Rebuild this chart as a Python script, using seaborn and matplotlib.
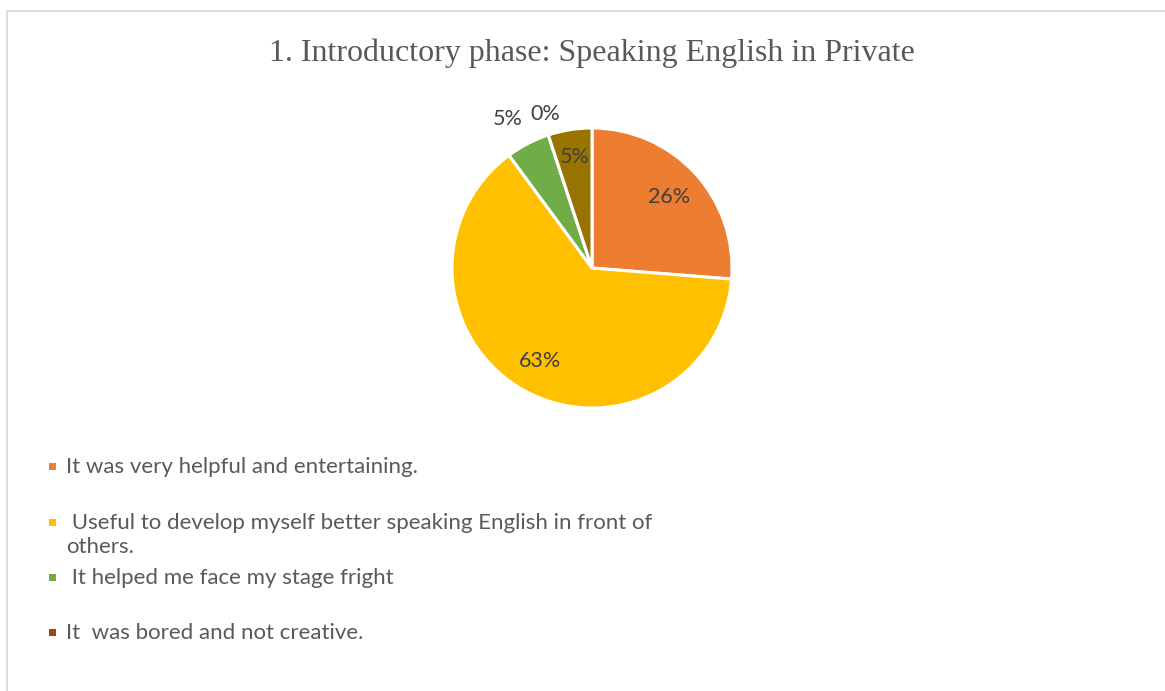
import matplotlib
matplotlib.use("Agg")
import matplotlib.pyplot as plt
from matplotlib.patches import Rectangle
from matplotlib.lines import Line2D
import numpy as np
import seaborn as sns

# Survey responses (percent of students)
title = "1. Introductory phase: Speaking English in Private"
shares = [26, 63, 5, 0, 5]
slice_colors = ["#ED7D31", "#FFC000", "#70AD47", "#9E480E", "#997300"]
legend_labels = [
    "It was very helpful and entertaining.",
    " Useful to develop myself better speaking English in front of\nothers.",
    " It helped me face my stage fright",
    "It  was bored and not creative.",
]
# percentage label placement: radius (fraction of pie radius) and angular nudge (deg)
label_radius = [0.75, 0.76, 1.22, 1.15, 0.80]
label_nudge = [0.0, 0.0, 2.3, -1.2, 0.0]

sns.set_theme(style="white")
plt.rcParams["font.family"] = ["Lato", "DejaVu Sans"]

W, H = 1165, 691
fig = plt.figure(figsize=(W / 100, H / 100), dpi=100)
fig.patch.set_facecolor("white")


def fx(px):
    return px / W


def fy(py):
    return 1 - py / H


# chart-area frame (top and left edges)
frame_col = "#D9D9D9"
fig.add_artist(Line2D([fx(7), fx(7)], [fy(11), 0], transform=fig.transFigure,
                      color=frame_col, lw=1.3))
fig.add_artist(Line2D([fx(7), 1], [fy(11), fy(11)], transform=fig.transFigure,
                      color=frame_col, lw=1.3))

# pie
cx, cy, r = 592, 268, 140
ax = fig.add_axes([fx(cx - r), fy(cy + r), 2 * r / W, 2 * r / H])
wedges, _ = ax.pie(shares, colors=slice_colors, startangle=90, counterclock=False,
                   wedgeprops=dict(edgecolor="white", linewidth=2.2))
ax.set_xlim(-1, 1)
ax.set_ylim(-1, 1)
ax.set_aspect("equal")
ax.axis("off")
for w in wedges:
    w.set_clip_on(False)
for w, v, rr, dn in zip(wedges, shares, label_radius, label_nudge):
    mid = np.deg2rad((w.theta1 + w.theta2) / 2 + dn)
    ax.text(rr * np.cos(mid), rr * np.sin(mid), f"{v}%", ha="center", va="center",
            fontsize=15.5, color="#404040")

# title
fig.text(fx(592), fy(53), title, ha="center", va="center", fontsize=23,
         family=["Liberation Serif", "DejaVu Serif"], color="#595959")

# legend entries
entry_y = [466, 522, 577, 632]
for lbl, col, yy in zip(legend_labels, slice_colors[:4], entry_y):
    s = 7
    fig.add_artist(Rectangle((fx(49), fy(yy + s / 2)), s / W, s / H,
                             transform=fig.transFigure, color=col, lw=0))
    fig.text(fx(66), fy(yy - 9), lbl, ha="left", va="top", fontsize=16,
             color="#595959", linespacing=1.28)

fig.savefig("out.png", dpi=100, facecolor="white")
